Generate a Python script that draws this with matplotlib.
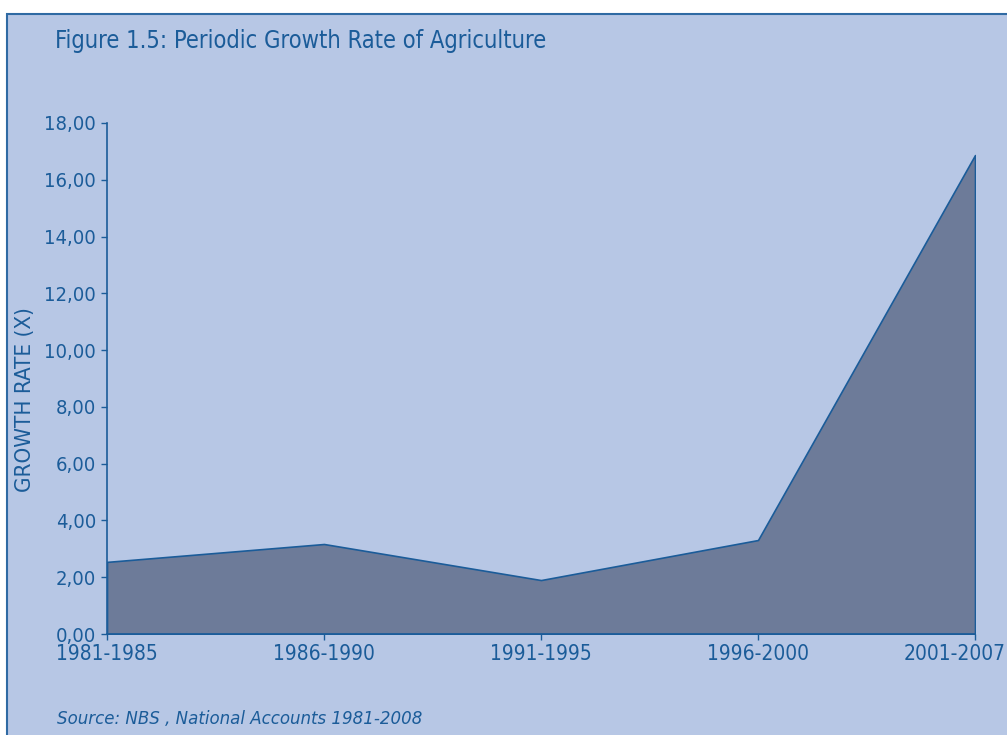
import matplotlib
matplotlib.use('Agg')
import matplotlib.pyplot as plt
from matplotlib.patches import Rectangle
from matplotlib.ticker import FuncFormatter
from matplotlib.transforms import ScaledTranslation

periods = ['1981-1985', '1986-1990', '1991-1995', '1996-2000', '2001-2007']
growth = [2.54, 3.17, 1.90, 3.31, 16.87]
yticks = [0, 2, 4, 6, 8, 10, 12, 14, 16, 18]

plt.rcParams['font.family'] = ['DejaVu Sans']
plt.rcParams['font.stretch'] = 'condensed'

txt = '#1b5c99'
panel = '#b7c7e5'
fill = '#6d7b99'

fig = plt.figure(figsize=(10.07, 7.35), dpi=100)
fig.patch.set_facecolor('white')

# blue panel behind everything
fig.patches.append(Rectangle((7 / 1007, -0.01), 1.0, 1.01 - 14 / 735, transform=fig.transFigure,
                             facecolor=panel, edgecolor='#2f6aa3', linewidth=1.5, zorder=0))

ax = fig.add_axes([107 / 1007, 1 - 634 / 735, (975 - 107) / 1007, (634 - 123) / 735])
ax.set_zorder(2)
ax.set_facecolor('none')

x = list(range(len(periods)))
ax.fill_between(x, growth, 0, facecolor=fill, edgecolor=txt, linewidth=1.2, zorder=2)

ax.set_xlim(0, len(periods) - 1)
ax.set_ylim(0, 18)
ax.set_xticks(x)
ax.set_xticklabels(periods)
ax.set_yticks(yticks)
ax.yaxis.set_major_formatter(FuncFormatter(lambda v, p: ('%.2f' % v).replace('.', ',')))

for s in ['top', 'right']:
    ax.spines[s].set_visible(False)
for s in ['left', 'bottom']:
    ax.spines[s].set_color(txt)
    ax.spines[s].set_linewidth(1.2)

ax.tick_params(axis='y', colors=txt, labelsize=14.5, length=4, width=1, pad=4)
ax.tick_params(axis='x', colors=txt, labelsize=15, length=4, width=1, pad=3)

# pull the last period label back inside the panel
last = ax.get_xticklabels()[-1]
last.set_transform(last.get_transform() + ScaledTranslation(-0.2, 0, fig.dpi_scale_trans))

fig.text(25 / 1007, 1 - 400 / 735, 'GROWTH RATE (X)', rotation=90,
         color=txt, fontsize=16, va='center', ha='center')
fig.text(55 / 1007, 1 - 48 / 735, 'Figure 1.5: Periodic Growth Rate of Agriculture',
         color=txt, fontsize=17, va='baseline', ha='left')
fig.text(57 / 1007, 1 - 724 / 735, 'Source: NBS , National Accounts 1981-2008',
         color=txt, fontsize=13.3, style='italic', va='baseline', ha='left')

fig.savefig('out.png', dpi=100)
